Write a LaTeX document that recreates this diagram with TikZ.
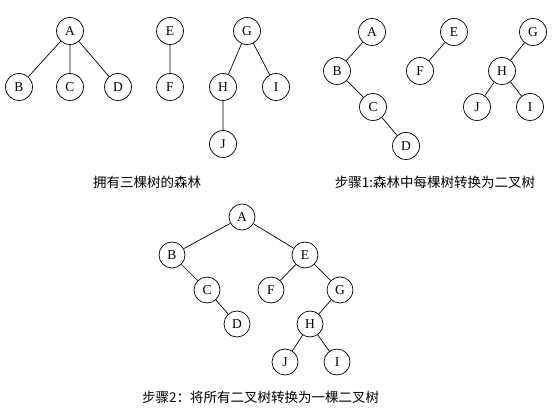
\documentclass[tikz,border=0pt]{standalone}
\usepackage{fontspec}
\setmainfont{Liberation Serif}
\newfontfamily\cjk{Noto Sans CJK SC}
\begin{document}
\begin{tikzpicture}[x=1pt,y=-1pt,
  nd/.style={circle,draw,line width=0.7pt,minimum size=27pt,inner sep=0pt,font=\fontsize{13.5}{13.5}\selectfont},
  ndb/.style={nd,minimum size=26pt},
  ed/.style={line width=0.7pt},
  captext/.style={font=\cjk\fontsize{13.5}{14}\selectfont,inner sep=0pt}]
\useasboundingbox (0,0) rectangle (554,419);
% forest
\node[nd] (a1) at (70,31) {A};
\node[nd] (b1) at (19,87) {B};
\node[nd] (c1) at (70,87) {C};
\node[nd] (d1) at (118,87) {D};
\node[nd] (e1) at (170,31) {E};
\node[nd] (f1) at (170,87) {F};
\node[nd] (g1) at (247,31) {G};
\node[nd] (h1) at (223,87) {H};
\node[nd] (i1) at (276,87) {I};
\node[nd] (j1) at (223,144) {J};
\draw[ed] (a1)--(b1) (a1)--(c1) (a1)--(d1) (e1)--(f1) (g1)--(h1) (g1)--(i1) (h1)--(j1);
\node[captext] (t1) at (147,182) {拥有三棵树的森林};
% step 1
\node[nd] (a2) at (372,32) {A};
\node[nd] (b2) at (337,71) {B};
\node[nd] (c2) at (373,107) {C};
\node[nd] (d2) at (406,146) {D};
\node[nd] (e2) at (454,32) {E};
\node[nd] (f2) at (420,71) {F};
\node[nd] (g2) at (533,32) {G};
\node[nd] (h2) at (502,71) {H};
\node[nd] (j2) at (477,107) {J};
\node[nd] (i2) at (530,107) {I};
\draw[ed] (a2)--(b2) (b2)--(c2) (c2)--(d2) (e2)--(f2) (g2)--(h2) (h2)--(j2) (h2)--(i2);
\node[captext] (t2) at (435,182) {步骤1:森林中每棵树转换为二叉树};
% step 2
\node[ndb] (a3) at (242,217) {A};
\node[ndb] (b3) at (172,255) {B};
\node[ndb] (e3) at (305,255) {E};
\node[ndb] (c3) at (207,290) {C};
\node[ndb] (f3) at (271,290) {F};
\node[ndb] (g3) at (340,290) {G};
\node[ndb] (d3) at (237,324) {D};
\node[ndb] (h3) at (310,324) {H};
\node[ndb] (j3) at (285,362) {J};
\node[ndb] (i3) at (337,362) {I};
\draw[ed] (a3)--(b3) (a3)--(e3) (b3)--(c3) (c3)--(d3) (e3)--(f3) (e3)--(g3) (g3)--(h3) (h3)--(j3) (h3)--(i3);
\node[captext,anchor=west] (t3) at (142,397) {步骤2：将所有二叉树转换为一棵二叉树};
\end{tikzpicture}
\end{document}
